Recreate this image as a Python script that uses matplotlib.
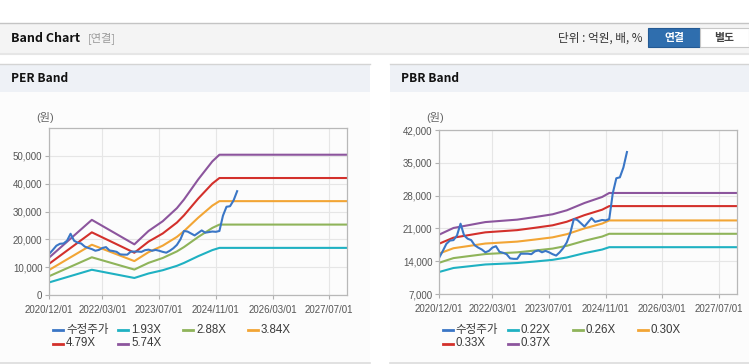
import matplotlib
matplotlib.use("Agg")
import matplotlib.pyplot as plt
from matplotlib.patches import Rectangle
from matplotlib.lines import Line2D
from matplotlib.ticker import FuncFormatter

plt.rcParams['font.family'] = ['Liberation Sans', 'Noto Sans CJK KR']

W, H = 749, 364

# x axis: months counted from 2020/12
tick_months = [0, 15, 31, 47, 63, 79]
tick_labels = ['2020/12/01', '2022/03/01', '2023/07/01', '2024/11/01', '2026/03/01', '2027/07/01']

# adjusted close (수정주가), monthly
price_months = list(range(54))
price = [14800, 16200, 17700, 18400, 18500, 19500, 22000, 19500, 18800, 18500,
         17400, 16900, 16500, 15900, 16200, 16900, 17200, 16000, 15800, 15500,
         14600, 14500, 14500, 15600, 15600, 15600, 15500, 16100, 16300, 15900,
         16200, 15900, 15500, 15200, 15900, 16800, 18000, 20000, 23000, 22800,
         22100, 21400, 22300, 23200, 22400, 22600, 22800, 22700, 23000, 28500,
         31700, 31900, 34000, 37300]

# PER band lines
per_months = [0, 12, 24, 28, 32, 36, 38, 42, 46, 48, 84]
per_labels = ['1.93X', '2.88X', '3.84X', '4.79X', '5.74X']
per_193 = [4540, 9070, 6120, 7730, 8900, 10480, 11520, 13940, 16130, 16930, 16930]
per_288 = [6780, 13550, 9140, 11550, 13300, 15660, 17220, 20830, 24100, 25300, 25300]
per_384 = [9030, 18060, 12180, 15390, 17730, 20870, 22950, 27760, 32110, 33720, 33720]
per_479 = [11260, 22520, 15180, 19180, 22100, 26020, 28610, 34610, 40030, 42030, 42030]
per_574 = [13500, 27000, 18200, 23000, 26500, 31200, 34300, 41500, 48000, 50400, 50400]

# PBR band lines
pbr_months = [0, 4, 8, 13, 22, 27, 32, 36, 41, 46, 48, 84]
pbr_labels = ['0.22X', '0.26X', '0.30X', '0.33X', '0.37X']
pbr_022 = [11710, 12550, 12880, 13300, 13610, 13930, 14290, 14790, 15720, 16490, 16990, 16990]
pbr_026 = [13680, 14660, 15050, 15530, 15890, 16280, 16690, 17280, 18360, 19260, 19850, 19850]
pbr_030 = [15650, 16770, 17210, 17770, 18180, 18620, 19090, 19760, 21000, 22030, 22700, 22700]
pbr_033 = [17750, 19020, 19530, 20160, 20630, 21130, 21660, 22420, 23830, 24990, 25760, 25760]
pbr_037 = [19680, 21090, 21650, 22350, 22870, 23420, 24010, 24860, 26420, 27710, 28560, 28560]

price_color = '#3a76c6'
band_colors = ['#1fb1c2', '#8fb45a', '#f2a535', '#d3302b', '#8c559d']


def fx(x):
    return x / W


def fy(y):
    return 1 - y / H


def rect(fig, x0, y0, x1, y1, fc, ec='none', lw=0, z=0):
    fig.add_artist(Rectangle((fx(x0), fy(y1)), (x1 - x0) / W, (y1 - y0) / H,
                             transform=fig.transFigure, fc=fc, ec=ec, lw=lw, zorder=z))


def hline(fig, x0, x1, y, color, lw=1, z=1):
    fig.add_artist(Line2D([fx(x0), fx(x1)], [fy(y), fy(y)], transform=fig.transFigure,
                          color=color, lw=lw, zorder=z))


fig = plt.figure(figsize=(W / 100, H / 100), dpi=100)

# page header
hline(fig, 0, W, 22.5, '#c4c4c4', lw=1)
rect(fig, 0, 23, W, 52, '#f4f4f4')
hline(fig, 0, W, 52.5, '#c8c8c8', lw=1)
hline(fig, 0, W, 54, '#e6e6e6', lw=1.5)
fig.text(fx(11), fy(38), 'Band Chart', fontsize=9, fontweight='bold',
         family=['Noto Sans CJK KR'], va='center', color='#111')
fig.text(fx(88), fy(38), '[연결]', fontsize=8, family=['Noto Sans CJK KR'],
         va='center', color='#9a9a9a')
fig.text(fx(642), fy(38), '단위 : 억원, 배, %', fontsize=8.4, family=['Noto Sans CJK KR'],
         va='center', ha='right', color='#333')
rect(fig, 648, 28, 700, 47, '#2f6eae', ec='#245a94', lw=0.8, z=2)
fig.text(fx(674), fy(37.5), '연결', fontsize=7.8, fontweight='bold', family=['Noto Sans CJK KR'],
         va='center', ha='center', color='white', zorder=3)
rect(fig, 700, 28, 749, 47, '#ffffff', ec='#c8c8c8', lw=0.8, z=2)
fig.text(fx(724), fy(37.5), '별도', fontsize=7.8, fontweight='bold', family=['Noto Sans CJK KR'],
         va='center', ha='center', color='#444', zorder=3)

panels = [
    dict(x0=0, x1=370, title='PER Band', ax=[49.3, 128, 347, 295], ylim=(0, 60000),
         yticks=list(range(0, 60000, 10000)), months=per_months,
         bands=[per_193, per_288, per_384, per_479, per_574], labels=per_labels, leg_x=53),
    dict(x0=390, x1=W, title='PBR Band', ax=[439.3, 130, 736.7, 294], ylim=(7000, 42000),
         yticks=list(range(7000, 42001, 7000)), months=pbr_months,
         bands=[pbr_022, pbr_026, pbr_030, pbr_033, pbr_037], labels=pbr_labels, leg_x=442.7),
]

for p in panels:
    rect(fig, p['x0'], 64, p['x1'], 92, '#eef1f6')
    hline(fig, p['x0'], p['x1'], 64, '#d4d4d4', lw=1)
    rect(fig, p['x0'], 92, p['x1'], 362, '#fcfcfc')
    hline(fig, p['x0'], p['x1'], 362.5, '#dcdcdc', lw=1.2)
    fig.text(fx(p['x0'] + 11), fy(79), p['title'], fontsize=8.6, fontweight='bold',
             family=['Noto Sans CJK KR'], va='center', color='#111')

    l, t, r, b = p['ax']
    ax = fig.add_axes([fx(l), fy(b), (r - l) / W, (b - t) / H])
    ax.set_facecolor('#fcfcfc')
    for c, vals in zip(band_colors, p['bands']):
        ax.plot(p['months'], vals, color=c, lw=1.5, solid_joinstyle='round')
    ax.plot(price_months, price, color=price_color, lw=1.5, solid_joinstyle='round')

    ax.set_xlim(0, 84)
    ax.set_ylim(*p['ylim'])
    ax.set_xticks(tick_months)
    ax.set_xticklabels(tick_labels)
    ax.set_yticks(p['yticks'])
    ax.yaxis.set_major_formatter(FuncFormatter(lambda v, _: f'{int(v):,}'))
    ax.grid(True, color='#e6e6e6', lw=0.8)
    ax.set_axisbelow(True)
    for s in ax.spines.values():
        s.set_color('#b8b8b8')
        s.set_linewidth(0.9)
    ax.tick_params(axis='both', labelsize=7.0, colors='#555', length=3, width=0.8,
                   color='#b0b0b0', pad=2)
    ax.tick_params(axis='x', pad=4)

    fig.text(fx(l - 4), fy(118), '(원)', fontsize=8, va='center', ha='center', color='#666')

    names = ['수정주가'] + p['labels']
    colors = [price_color] + band_colors
    for i, (name, c) in enumerate(zip(names, colors)):
        x = p['leg_x'] + 65 * (i % 4)
        y = 330 if i < 4 else 343.5
        fig.add_artist(Line2D([fx(x), fx(x + 10)], [fy(y), fy(y)], transform=fig.transFigure,
                              color=c, lw=2))
        fig.text(fx(x + 13), fy(y), name, fontsize=8.3, va='center', color='#3a3a3a')

fig.savefig('out.png', dpi=100)
